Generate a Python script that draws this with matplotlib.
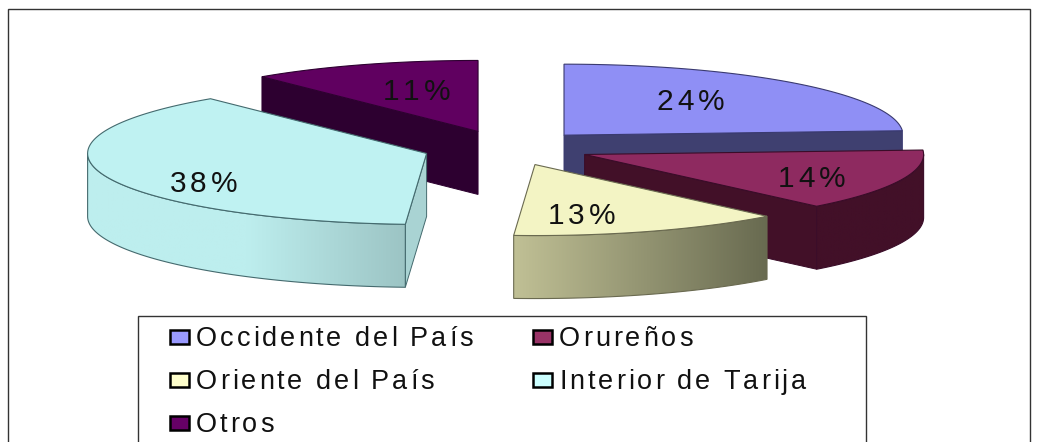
# Exploded 3D pie with tracked-out labels, drawn in pixel coordinates
import numpy as np
import matplotlib
matplotlib.use("Agg")
import matplotlib.pyplot as plt
from matplotlib import font_manager
from matplotlib.colors import LinearSegmentedColormap
from matplotlib.ft2font import LoadFlags
from matplotlib.patches import Polygon, Rectangle
from matplotlib.text import Text
from matplotlib.transforms import IdentityTransform

categories = ["Occidente del País", "Orureños", "Oriente del País", "Interior de Tarija", "Otros"]
values = [24, 14, 13, 38, 11]
pct_labels = ["24%", "14%", "13%", "38%", "11%"]

top_colors = ["#8f8ff5", "#8e2a60", "#f3f4c4", "#bff2f2", "#600060"]
cut_colors = ["#3f4070", "#421028", "#8a8a68", "#a9d3d3", "#2d0030"]
outer_grads = [["#3f4070", "#3f4070"], ["#421028", "#421028"], ["#c0c095", "#686a50"],
               ["#bdeeee", "#bdeeee", "#9cc4c4"], ["#2d0030", "#2d0030"]]
edge_colors = ["#3a3a70", "#3a0c28", "#6a6a50", "#446a6e", "#2d0030"]
swatch_colors = ["#9999ff", "#993366", "#ffffcc", "#ccffff", "#660066"]

CX, CY = 506.5, 148
RX, RY = 339, 71
DEPTH = 63
EXPLODE = 84
DRAW_ORDER = [4, 3, 0, 1, 2]
LABEL_POS = [(657, 110), (778, 187), (548, 224), (170, 192), (383, 100)]


class SpacedText(Text):
    # one text object, but each glyph is placed with extra tracking (px)
    def __init__(self, x, y, s, tracking=0, **kw):
        super().__init__(x, y, s, **kw)
        self.tracking = tracking

    def advances(self):
        prop = self.get_fontproperties()
        font = font_manager.get_font(font_manager.findfont(prop))
        font.set_size(prop.get_size_in_points(), self.get_figure().dpi)
        return [font.load_char(ord(c), flags=LoadFlags.NO_HINTING).linearHoriAdvance / 65536
                + self.tracking for c in self.get_text()]

    def draw(self, renderer):
        x, y = self.get_transform().transform(self.get_position())
        for c, adv in zip(self.get_text(), self.advances()):
            t = Text(x, y, c, transform=IdentityTransform(), color=self.get_color(),
                     fontproperties=self.get_fontproperties(), va="baseline", ha="left")
            t.set_figure(self.get_figure())
            t.draw(renderer)
            x += adv

    def get_window_extent(self, renderer=None, dpi=None):
        box = super().get_window_extent(renderer, dpi)
        return box.from_extents(box.x0, box.y0, box.x0 + sum(self.advances()), box.y1)


def arc(cx, cy, a0, a1, n=120):
    t = np.radians(np.linspace(a0, a1, n))
    return np.column_stack([cx + RX * np.sin(t), cy - RY * np.cos(t)])


fig = plt.figure(figsize=(10.37, 4.42), dpi=100)
ax = fig.add_axes([0, 0, 1, 1])
ax.set_axis_off()

# chart frame, its bottom runs off the picture
ax.add_patch(Rectangle((7.5, 8.5), 1022, 460, fc="white", ec="#333333", lw=1))

angles = np.cumsum([0] + values) * 3.6
z = 2
for i in DRAW_ORDER:
    a0, a1 = angles[i], angles[i + 1]
    mid = np.radians((a0 + a1) / 2)
    cx = CX + EXPLODE * np.sin(mid)
    cy = CY - EXPLODE * RY / RX * np.cos(mid)
    down = np.array([0, DEPTH])
    apex = np.array([cx, cy])
    rim = arc(cx, cy, a0, a1)

    # flat cut faces that turn toward the viewer
    for ang, normal in ((a0, a0 - 90), (a1, a1 + 90)):
        if np.cos(np.radians(normal)) < 0:
            tip = arc(cx, cy, ang, ang, 1)[0]
            quad = [apex, tip, tip + down, apex + down]
            ax.add_patch(Polygon(quad, fc=cut_colors[i], ec=edge_colors[i], lw=0.7, zorder=z))
            z += 1

    # curved outer wall, only the front half of the ellipse shows
    lo, hi = max(a0, 90), min(a1, 270)
    if lo < hi:
        front = arc(cx, cy, lo, hi)
        wall = np.vstack([front, (front + down)[::-1]])
        poly = Polygon(wall, fc="none", ec=edge_colors[i], lw=0.8, zorder=z + 1)
        ax.add_patch(poly)
        cmap = LinearSegmentedColormap.from_list("g%d" % i, outer_grads[i])
        x0, x1 = wall[:, 0].min(), wall[:, 0].max()
        y0, y1 = wall[:, 1].min(), wall[:, 1].max()
        # gradient runs toward the lower end of the wall
        ramp = np.linspace(0, 1, 256).reshape(1, -1)
        im = ax.imshow(ramp, cmap=cmap, extent=(x0, x1, y1, y0), aspect="auto", zorder=z)
        clip = Polygon(wall, transform=ax.transData)
        im.set_clip_path(clip)
        z += 2

    top = np.vstack([[apex], rim])
    ax.add_patch(Polygon(top, fc=top_colors[i], ec=edge_colors[i], lw=0.8, zorder=z))
    z += 1

# percent labels
for s, (x, y) in zip(pct_labels, LABEL_POS):
    ax.add_artist(SpacedText(x, y, s, tracking=3.6, fontfamily="Liberation Sans",
                             fontsize=21.5, color="#111111", zorder=z))

# legend
ax.add_patch(Rectangle((137.5, 315.5), 728.5, 160, fc="white", ec="#333333", lw=1, zorder=z))
legend_x = [170, 533, 170, 533, 170]
legend_y = [346, 346, 389, 389, 432]
for name, col, x, y in zip(categories, swatch_colors, legend_x, legend_y):
    ax.add_patch(Rectangle((x, y - 16), 18.5, 14, fc=col, ec="black", lw=1.8, zorder=z + 1))
    ax.add_artist(SpacedText(x + 26, y, name, tracking=2.9, fontfamily="Liberation Sans",
                             fontsize=19.5, color="#111111", zorder=z + 1))

ax.set_xlim(0, 1037)
ax.set_ylim(442, 0)
fig.savefig("out.png", dpi=100, facecolor="white")
